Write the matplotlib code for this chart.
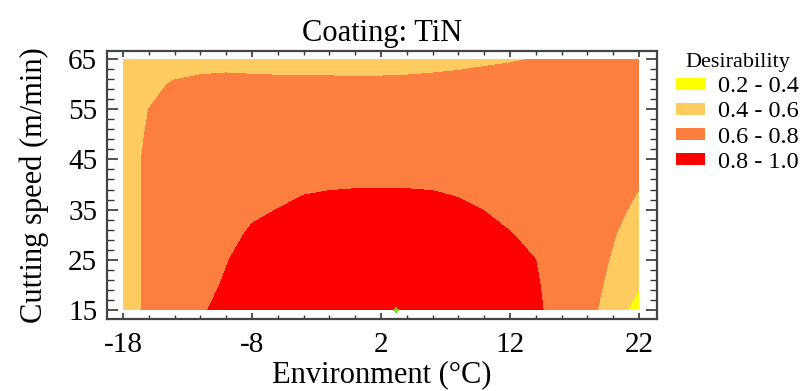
import numpy as np
import matplotlib
matplotlib.use("Agg")
import matplotlib.pyplot as plt
from matplotlib.patches import Patch
from matplotlib.ticker import MultipleLocator, FixedLocator

plt.rcParams['font.family'] = ['Liberation Serif', 'DejaVu Serif']
plt.rcParams['axes.unicode_minus'] = False

# grid of the response surface (environment in degC, cutting speed in m/min)
env = [-18, -16, -14, -12, -10, -8, -6, -4, -2, 0, 2, 4, 6, 8, 10, 12, 14, 16, 18, 20, 22]
speed = [15, 20, 25, 30, 35, 40, 45, 50, 55, 60, 65]

# desirability, one row per cutting speed
d_15 = [0.50, 0.64, 0.70, 0.78, 0.85, 0.88, 0.90, 0.91, 0.92, 0.93, 0.93, 0.93, 0.92, 0.91, 0.89, 0.86, 0.82, 0.75, 0.65, 0.52, 0.30]
d_20 = [0.50, 0.64, 0.71, 0.77, 0.81, 0.85, 0.88, 0.90, 0.91, 0.92, 0.92, 0.92, 0.91, 0.90, 0.88, 0.85, 0.81, 0.75, 0.66, 0.56, 0.425]
d_25 = [0.50, 0.64, 0.71, 0.76, 0.795, 0.84, 0.87, 0.89, 0.90, 0.91, 0.91, 0.91, 0.90, 0.88, 0.86, 0.83, 0.80, 0.74, 0.67, 0.585, 0.46]
d_30 = [0.50, 0.64, 0.71, 0.75, 0.775, 0.812, 0.85, 0.87, 0.88, 0.89, 0.89, 0.89, 0.88, 0.86, 0.83, 0.805, 0.77, 0.72, 0.67, 0.61, 0.51]
d_35 = [0.50, 0.64, 0.71, 0.74, 0.76, 0.785, 0.801, 0.83, 0.84, 0.85, 0.85, 0.85, 0.84, 0.82, 0.798, 0.77, 0.74, 0.71, 0.67, 0.63, 0.575]
d_40 = [0.50, 0.64, 0.70, 0.72, 0.74, 0.755, 0.765, 0.778, 0.787, 0.79, 0.79, 0.79, 0.787, 0.778, 0.76, 0.745, 0.72, 0.70, 0.67, 0.64, 0.605]
d_45 = [0.50, 0.64, 0.69, 0.71, 0.72, 0.73, 0.735, 0.74, 0.745, 0.75, 0.75, 0.75, 0.745, 0.74, 0.735, 0.73, 0.72, 0.71, 0.69, 0.67, 0.65]
d_50 = [0.50, 0.62, 0.68, 0.70, 0.71, 0.715, 0.72, 0.72, 0.725, 0.73, 0.73, 0.73, 0.73, 0.725, 0.72, 0.72, 0.715, 0.71, 0.70, 0.69, 0.68]
d_55 = [0.50, 0.601, 0.66, 0.685, 0.695, 0.70, 0.70, 0.70, 0.70, 0.70, 0.70, 0.70, 0.70, 0.70, 0.705, 0.705, 0.71, 0.71, 0.71, 0.71, 0.71]
d_60 = [0.49, 0.55, 0.62, 0.66, 0.68, 0.665, 0.655, 0.65, 0.648, 0.647, 0.647, 0.65, 0.655, 0.66, 0.67, 0.68, 0.69, 0.695, 0.70, 0.70, 0.70]
d_65 = [0.48, 0.50, 0.50, 0.50, 0.50, 0.50, 0.50, 0.50, 0.50, 0.50, 0.50, 0.51, 0.53, 0.55, 0.57, 0.585, 0.605, 0.62, 0.635, 0.645, 0.65]

levels = [0.2, 0.4, 0.6, 0.8, 1.0]
level_labels = ["0.2 - 0.4", "0.4 - 0.6", "0.6 - 0.8", "0.8 - 1.0"]
level_colors = ["#FFFF00", "#FDCB60", "#FD7F3F", "#FF0000"]

# optimum marker
opt_env, opt_speed = 3.2, 15.0

Z = np.array([d_15, d_20, d_25, d_30, d_35, d_40, d_45, d_50, d_55, d_60, d_65])
X, Y = np.meshgrid(env, speed)

fig = plt.figure(figsize=(8.04, 3.91), dpi=100)
ax = fig.add_axes([0.1331, 0.1841, 0.6841, 0.6855])

ax.contourf(X, Y, Z, levels=levels, colors=level_colors)
ax.plot(opt_env, opt_speed, marker="+", color="#66DD22", markersize=5, mew=1.5,
        clip_on=False)

ax.set_xlim(-19.24, 23.4)
ax.set_ylim(13.2, 66.6)
ax.xaxis.set_major_locator(FixedLocator([-18, -8, 2, 12, 22]))
ax.xaxis.set_minor_locator(MultipleLocator(2))
ax.yaxis.set_major_locator(FixedLocator([15, 25, 35, 45, 55, 65]))
ax.yaxis.set_minor_locator(FixedLocator(np.arange(15, 66, 2)))

ax.tick_params(axis="x", which="major", direction="in", length=4.5, width=1.2,
               top=True, labelsize=21, pad=9, color="#333333")
ax.tick_params(axis="x", which="minor", direction="in", length=3, width=1.0,
               top=True, color="#333333")
ax.tick_params(axis="y", which="major", direction="in", length=8, width=1.2,
               right=True, labelsize=21, pad=7, color="#333333")
ax.tick_params(axis="y", which="minor", direction="in", length=5, width=1.0,
               right=True, color="#333333")
for sp in ax.spines.values():
    sp.set_color("#444444")
    sp.set_linewidth(1.6)

ax.set_title("Coating: TiN", fontsize=22, pad=7)
ax.set_xlabel("Environment (°C)", fontsize=22, labelpad=2)
ax.set_ylabel("Cutting speed (m/min)", fontsize=22, labelpad=14)

handles = [Patch(facecolor=c, edgecolor="none") for c in level_colors]
leg = fig.legend(handles, level_labels, title="Desirability", loc="upper left",
                 bbox_to_anchor=(0.826, 0.895), frameon=False, fontsize=17.5,
                 title_fontsize=16, handlelength=1.2, handleheight=0.4,
                 handletextpad=0.5, labelspacing=0.17, borderpad=0.0)

fig.savefig("out.png", dpi=100)
